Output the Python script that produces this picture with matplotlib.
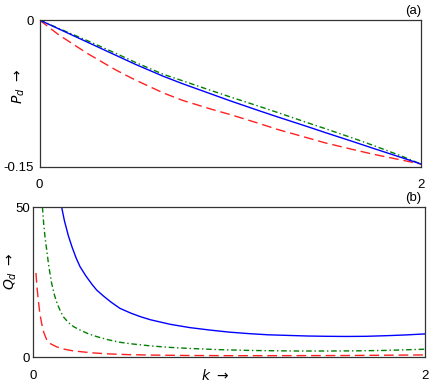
#!/usr/bin/env python3
"""P_d and Q_d against k, two stacked panels."""

import matplotlib
matplotlib.use("Agg")
import matplotlib.pyplot as plt

plt.rcParams["font.family"] = ["Liberation Sans", "DejaVu Sans"]
plt.rcParams["mathtext.fontset"] = "dejavusans"

# panel (a): P_d values
k_a = [0.0, 0.1, 0.25, 0.4, 0.5, 0.65, 0.75, 0.9, 1.0, 1.15, 1.25, 1.4, 1.5, 1.65, 1.75, 1.9, 2.0]
p_blue = [0.0, -0.009, -0.0225, -0.036, -0.045, -0.0575, -0.065, -0.0755, -0.0825, -0.0925,
          -0.099, -0.1085, -0.115, -0.1245, -0.131, -0.1405, -0.147]
p_green = [0.0, -0.0085, -0.021, -0.034, -0.043, -0.0555, -0.062, -0.072, -0.0785, -0.088,
           -0.0945, -0.1045, -0.111, -0.121, -0.128, -0.139, -0.147]
p_red = [0.0, -0.015, -0.034, -0.051, -0.061, -0.0745, -0.082, -0.091, -0.0965, -0.1055,
         -0.1118, -0.120, -0.1255, -0.1325, -0.137, -0.143, -0.147]

# panel (b): Q_d values
k_blue = [0.146, 0.16, 0.18, 0.20, 0.22, 0.24, 0.27, 0.30, 0.325, 0.36, 0.40, 0.444, 0.5,
          0.55, 0.6, 0.7, 0.8, 0.9, 1.0, 1.1, 1.2, 1.3, 1.4, 1.5, 1.6, 1.7, 1.8, 1.9, 2.0]
q_blue = [50, 45.5, 40.5, 36.5, 33, 30.1, 27, 24.3, 22.3, 20.3, 18.2, 16.2, 14.6,
          13.4, 12.4, 10.9, 9.8, 9.0, 8.3, 7.8, 7.4, 7.2, 7.0, 6.9, 6.85, 6.9, 7.1, 7.35, 7.7]
k_green = [0.048, 0.055, 0.062, 0.07, 0.08, 0.095, 0.11, 0.125, 0.14, 0.155, 0.18, 0.21,
           0.24, 0.28, 0.325, 0.38, 0.444, 0.5, 0.6, 0.7, 0.8, 0.95, 1.1, 1.2, 1.35, 1.5,
           1.65, 1.8, 1.9, 2.0]
q_green = [50, 44, 39.5, 35.7, 30.5, 24.6, 20.5, 17.5, 15.3, 13.4, 11.5, 10.0,
           9.0, 7.8, 6.8, 5.8, 4.9, 4.4, 3.7, 3.2, 2.85, 2.45, 2.2, 2.1, 2.0, 2.0,
           2.05, 2.2, 2.4, 2.6]
k_red = [0.015, 0.02, 0.027, 0.035, 0.044, 0.055, 0.07, 0.09, 0.12, 0.16, 0.2, 0.24, 0.3,
         0.38, 0.48, 0.6, 0.8, 1.0, 1.2, 1.4, 1.6, 1.8, 2.0]
q_red = [28, 23.5, 19, 14.5, 11.2, 8.2, 5.7, 4.4, 3.4, 2.6, 2.1, 1.8, 1.4,
         1.05, 0.8, 0.65, 0.5, 0.45, 0.45, 0.47, 0.5, 0.6, 0.7]

BLUE = "#0000ff"
GREEN = "#008000"
RED = "#ff2020"
FS = 9.5


def _style(ax, xpad, ypad):
    for sp in ax.spines.values():
        sp.set_color("#333333")
        sp.set_linewidth(0.9)
    ax.tick_params(length=0, labelsize=FS)
    ax.tick_params(axis="x", pad=xpad)
    ax.tick_params(axis="y", pad=ypad)


fig = plt.figure(figsize=(4.36, 3.87), dpi=100)

ax1 = fig.add_axes([0.0906, 0.5685, 0.875, 0.3798])
ax1.plot(k_a, p_red, color=RED, lw=1.0, dashes=(7, 3.5))
ax1.plot(k_a, p_green, color=GREEN, lw=1.0, dashes=(4, 2, 1, 2))
ax1.plot(k_a, p_blue, color=BLUE, lw=1.0)
ax1.set_xlim(0, 2)
ax1.set_ylim(-0.15, 0)
ax1.set_xticks([0, 2])
ax1.set_xticklabels(["0", "2"])
ax1.set_yticks([-0.15, 0])
ax1.set_yticklabels(["-0.15", "0"])
_style(ax1, 9, 4)
ax1.set_ylabel(r"$P_d\ \rightarrow$", fontsize=10)
ax1.yaxis.set_label_coords(-0.032, 0.55)
ax1.text(1.0, 1.02, "(a)", transform=ax1.transAxes, ha="right", va="bottom", fontsize=FS)

ax2 = fig.add_axes([0.0757, 0.0775, 0.8991, 0.3876])
ax2.plot(k_red, q_red, color=RED, lw=1.0, dashes=(7, 3.5))
ax2.plot(k_green, q_green, color=GREEN, lw=1.0, dashes=(4, 2, 1, 2))
ax2.plot(k_blue, q_blue, color=BLUE, lw=1.0)
ax2.set_xlim(0, 2)
ax2.set_ylim(0, 50)
ax2.set_xticks([0, 2])
ax2.set_xticklabels(["0", "2"])
ax2.set_yticks([0, 50])
ax2.set_yticklabels(["0", "50"])
_style(ax2, 9, 2)
ax2.set_ylabel(r"$Q_d\ \rightarrow$", fontsize=10)
ax2.yaxis.set_label_coords(-0.035, 0.57)
ax2.set_xlabel(r"$k\ \rightarrow$", fontsize=10)
ax2.xaxis.set_label_coords(0.465, -0.075)
ax2.text(0.99, 1.02, "(b)", transform=ax2.transAxes, ha="right", va="bottom", fontsize=FS)

fig.savefig("out.png", dpi=100)
